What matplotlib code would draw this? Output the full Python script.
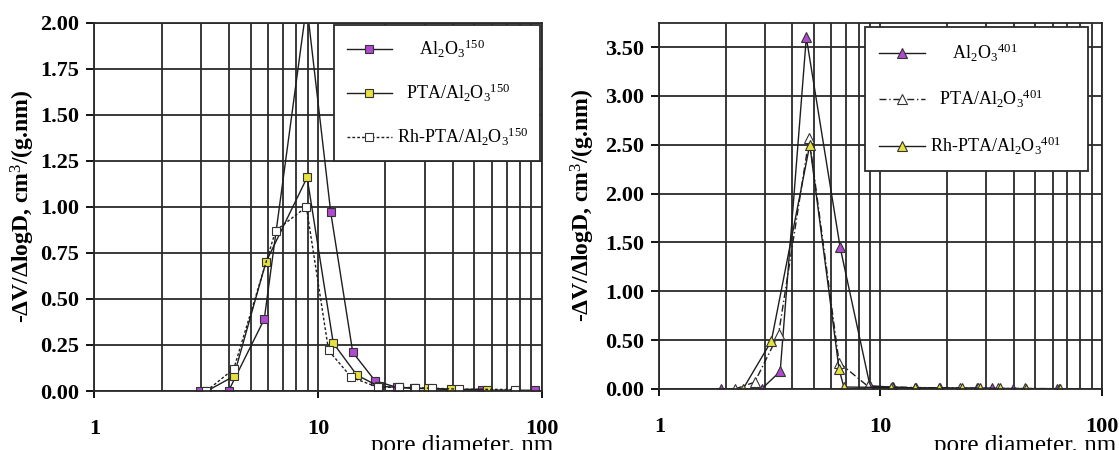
import numpy as np
import matplotlib
matplotlib.use('Agg')
import matplotlib.pyplot as plt
from matplotlib.ticker import LogLocator, NullFormatter, FormatStrFormatter

plt.rcParams['font.family'] = ['Liberation Serif', 'DejaVu Serif']
plt.rcParams['mathtext.fontset'] = 'custom'
plt.rcParams['mathtext.rm'] = 'Liberation Serif'
plt.rcParams['mathtext.it'] = 'Liberation Serif:italic'
plt.rcParams['mathtext.bf'] = 'Liberation Serif:bold'

# left panel: series 150
al_150_x = [2.97, 3.98, 5.75, 8.9, 11.4, 14.3, 18.0, 22.5, 26.9, 31.7, 39.5, 54, 93]
al_150_y = [0.0, 0.0, 0.39, 2.1, 0.97, 0.21, 0.055, 0.02, 0.015, 0.012, 0.008, 0.005, 0.004]
pta_150_x = [3.19, 4.2, 5.85, 8.94, 11.7, 14.9, 18.7, 23.1, 27, 31.1, 39.2, 56.8]
pta_150_y = [0.0, 0.08, 0.70, 1.16, 0.26, 0.087, 0.025, 0.02, 0.015, 0.015, 0.01, 0.008]
rh_150_x = [3.17, 4.2, 6.46, 8.87, 11.15, 14.1, 18.6, 22.9, 27, 32.4, 42.8, 76]
rh_150_y = [0.0, 0.12, 0.87, 1.0, 0.22, 0.074, 0.02, 0.02, 0.018, 0.015, 0.01, 0.008]

# right panel: series 401
al_401_x = [1.91, 2.9, 3.52, 4.62, 6.57, 8.97, 11.35, 14.3, 27.2, 31.8, 39.6, 63]
al_401_y = [0.0, 0.0, 0.18, 3.6, 1.45, 0.03, 0.02, 0.01, 0.005, 0.005, 0.003, 0.002]
pta_401_x = [2.2, 2.7, 3.46, 4.76, 6.5, 8.75, 11.3, 14.5, 18.5, 22.9, 27.6, 34, 45, 64]
pta_401_y = [0.0, 0.07, 0.56, 2.57, 0.27, 0.03, 0.02, 0.015, 0.012, 0.01, 0.008, 0.006, 0.005, 0.003]
rh_401_x = [2.39, 3.21, 4.79, 6.5, 6.83, 11.2, 14.3, 18.4, 23.3, 28.2, 34.7, 45.5, 64.7]
rh_401_y = [0.0, 0.49, 2.5, 0.2, 0.02, 0.015, 0.012, 0.01, 0.01, 0.008, 0.005, 0.004, 0.003]

labels_150 = [r'     Al$_2$O$_3$$^{150}$', r'  PTA/Al$_2$O$_3$$^{150}$', r'Rh-PTA/Al$_2$O$_3$$^{150}$']
labels_401 = [r'     Al$_2$O$_3$$^{401}$', r'  PTA/Al$_2$O$_3$$^{401}$', r'Rh-PTA/Al$_2$O$_3$$^{401}$']

PURPLE = '#b04ad0'
YELLOW = '#e6e040'
LINE = '#1e1e1e'
GRID = '#2a2a2a'

fig = plt.figure(figsize=(11.19, 4.5), dpi=100)
ax1 = fig.add_axes([0.0843, 0.1311, 0.3998, 0.8184])
ax2 = fig.add_axes([0.5892, 0.1356, 0.3953, 0.8140])


def style_axes(ax, ymax, ystep, ylabel_x, xlabel_xy):
    ax.set_xscale('log')
    ax.set_xlim(1, 100)
    ax.set_ylim(0, ymax)
    ax.set_yticks(np.arange(0, ymax + 1e-9, ystep))
    ax.yaxis.set_major_formatter(FormatStrFormatter('%.2f'))
    ax.set_xticks([1, 10, 100])
    ax.set_xticklabels(['1', '10', '100'])
    ax.xaxis.set_minor_locator(LogLocator(base=10, subs=np.arange(2, 10)))
    ax.xaxis.set_minor_formatter(NullFormatter())
    ax.grid(True, which='both', axis='x', color=GRID, lw=1.3)
    ax.grid(True, which='major', axis='y', color=GRID, lw=1.3)
    ax.tick_params(axis='x', which='minor', length=0)
    ax.tick_params(axis='x', which='major', length=5, width=1.3, pad=15, labelsize=16)
    ax.tick_params(axis='y', length=6, width=1.3, pad=5, labelsize=16)
    for lbl in ax.get_xticklabels() + ax.get_yticklabels():
        lbl.set_fontweight('bold')
    for sp in ax.spines.values():
        sp.set_color(GRID)
        sp.set_linewidth(1.3)
    ax.set_ylabel('-ΔV/ΔlogD, cm$^3$/(g.nm)', fontsize=17, fontweight='bold')
    ax.yaxis.set_label_coords(ylabel_x, 0.5)
    ax.set_xlabel('pore diameter, nm', fontsize=18, loc='right')
    ax.xaxis.set_label_coords(*xlabel_xy)


style_axes(ax1, 2.0, 0.25, -0.128, (1.025, -0.1195))
style_axes(ax2, 3.75, 0.5, -0.141, (1.032, -0.1256))

mk = dict(ms=5.5, mec='#333333', mew=0.8)
ax1.plot(al_150_x, al_150_y, color=LINE, lw=1.0, ls='-', marker='s', mfc=PURPLE, label=labels_150[0], **mk)
ax1.plot(pta_150_x, pta_150_y, color=LINE, lw=1.0, ls='-', marker='s', mfc=YELLOW, label=labels_150[1], **mk)
ax1.plot(rh_150_x, rh_150_y, color=LINE, lw=1.0, ls=(0, (2, 1.5)), marker='s', mfc='white', label=labels_150[2], **mk)

mt = dict(ms=6.5, mec='#333333', mew=0.8)
ax2.plot(al_401_x, al_401_y, color=LINE, lw=1.0, ls='-', marker='^', mfc=PURPLE, label=labels_401[0], **mt)
ax2.plot(pta_401_x, pta_401_y, color=LINE, lw=1.0, ls=(0, (5, 2, 1, 2)), marker='^', mfc='white', label=labels_401[1], **mt)
ax2.plot(rh_401_x, rh_401_y, color=LINE, lw=1.0, ls='-', marker='^', mfc=YELLOW, label=labels_401[2], **mt)

legend_boxes = (
    (ax1, (0.536, 0.0, 0.460, 0.994), 1.22, 0.7),
    (ax2, (0.465, 0.0, 0.504, 0.988), 1.36, 0.8),
)
for ax, bbox, spacing, bpad in legend_boxes:
    leg = ax.legend(loc='upper left', bbox_to_anchor=bbox, mode='expand', borderaxespad=0,
                    fontsize=13, handlelength=2.5, handletextpad=0.28,
                    labelspacing=spacing, borderpad=bpad, fancybox=False,
                    framealpha=1, edgecolor=GRID)
    leg.get_frame().set_linewidth(1.3)

fig.savefig('out.png', dpi=100)
